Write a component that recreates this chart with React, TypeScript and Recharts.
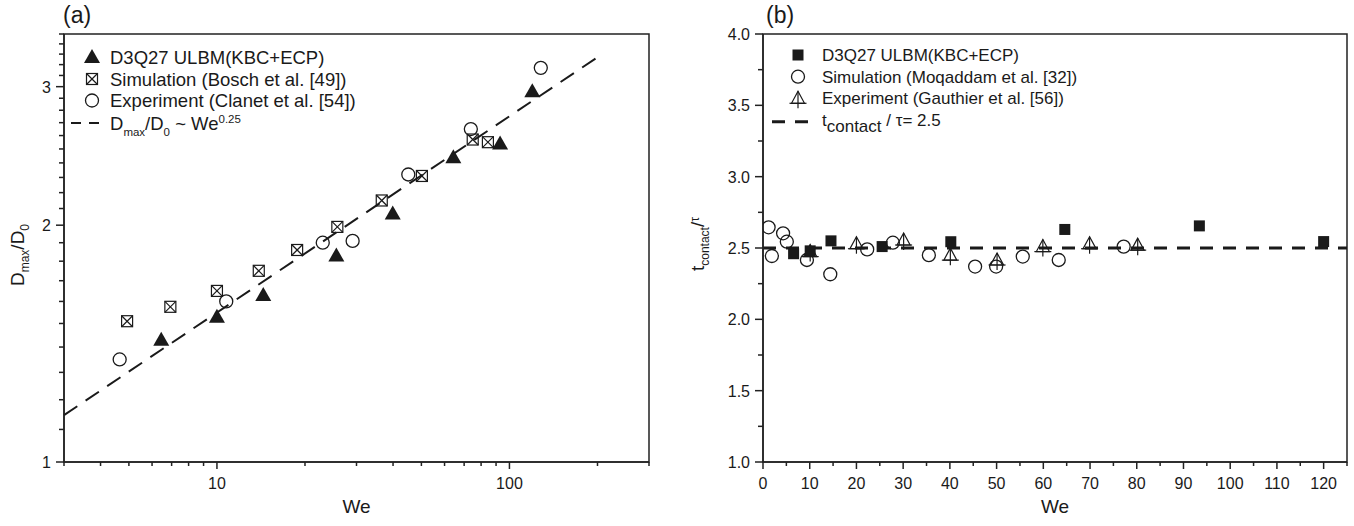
import React from "react";
import {
  Legend,
  Label,
  ReferenceArea,
  ReferenceLine,
  Scatter,
  ScatterChart,
  XAxis,
  YAxis
} from "recharts";

// ---- panel (a): spreading factor vs We (log-log) ----
const weUlbmA = [6.45, 10, 14.4, 25.6, 39.9, 64.3, 92.9, 119.7];
const dUlbmA = [1.43, 1.53, 1.63, 1.83, 2.07, 2.44, 2.54, 2.96];
const weBosch = [4.93, 6.93, 10, 13.9, 18.8, 25.8, 36.6, 50.2, 74.9, 84.4];
const dBosch = [1.51, 1.575, 1.65, 1.75, 1.86, 1.99, 2.15, 2.31, 2.57, 2.55];
const weClanet = [4.65, 10.76, 23.0, 29.1, 45.1, 73.8, 128];
const dClanet = [1.35, 1.6, 1.9, 1.91, 2.32, 2.65, 3.17];
// end points of the dashed We^0.25 line
const fitWe = [3, 200];
const fitD = [1.147, 3.27];

const xTicksA = [3, 4, 5, 6, 7, 8, 9, 10, 20, 30, 40, 50, 60, 70, 80, 90, 100, 200, 300];
const xLabelsA = [10, 100];
const yTicksA = [
  1, 1.1, 1.2, 1.3, 1.4, 1.5, 1.6, 1.7, 1.8, 1.9, 2, 2.1, 2.2, 2.3, 2.4, 2.5, 2.6, 2.7, 2.8, 2.9, 3, 3.1,
  3.2, 3.3, 3.4, 3.5
];
const yLabelsA = [1, 2, 3];

// ---- panel (b): contact time vs We ----
const weUlbmB = [6.55, 10.1, 14.55, 25.5, 40.2, 64.6, 93.4, 120];
const tUlbmB = [2.46, 2.48, 2.55, 2.51, 2.544, 2.63, 2.655, 2.545];
const weMoq = [1.2, 1.9, 4.3, 5.1, 9.4, 14.4, 22.3, 27.8, 35.5, 45.4, 49.9, 55.6, 63.3, 77.2];
const tMoq = [2.645, 2.444, 2.603, 2.544, 2.416, 2.316, 2.49, 2.537, 2.45, 2.37, 2.37, 2.44, 2.416, 2.51];
const weGau = [10.1, 20, 30.1, 40.1, 50.1, 59.9, 69.9, 80.2];
const tGau = [2.475, 2.53, 2.556, 2.45, 2.416, 2.51, 2.53, 2.52];
const tRef = [2.5];

const xTicksB = [0, 5, 10, 15, 20, 25, 30, 35, 40, 45, 50, 55, 60, 65, 70, 75, 80, 85, 90, 95, 100, 105, 110, 115, 120, 125];
const xLabelsB = [0, 10, 20, 30, 40, 50, 60, 70, 80, 90, 100, 110, 120];
const yTicksB = [1, 1.25, 1.5, 1.75, 2, 2.25, 2.5, 2.75, 3, 3.25, 3.5, 3.75, 4];
const yLabelsB = [1, 1.5, 2, 2.5, 3, 3.5, 4];

const INK = "#1a1a1a";
const AXIS = "#222";
const FONT = '"Liberation Sans", Arial, Helvetica, sans-serif';

const zip = (xs: number[], ys: number[]) => xs.map((x, i) => ({ x, y: ys[i] }));

// ---- marker shapes ----
function FilledTriangle({ cx, cy }: any) {
  return <polygon points={`${cx},${cy - 8} ${cx - 8},${cy + 6} ${cx + 8},${cy + 6}`} fill={INK} />;
}
function CrossSquare({ cx, cy }: any) {
  const h = 5.5;
  return (
    <g stroke={INK} strokeWidth={1.2} fill="none">
      <rect x={cx - h} y={cy - h} width={2 * h} height={2 * h} />
      <line x1={cx - h} y1={cy - h} x2={cx + h} y2={cy + h} />
      <line x1={cx - h} y1={cy + h} x2={cx + h} y2={cy - h} />
    </g>
  );
}
function OpenCircle({ cx, cy }: any) {
  return <circle cx={cx} cy={cy} r={6.5} fill="none" stroke={INK} strokeWidth={1.3} />;
}
function FilledSquare({ cx, cy }: any) {
  return <rect x={cx - 5.5} y={cy - 5.5} width={11} height={11} fill={INK} />;
}
function CrossTriangle({ cx, cy }: any) {
  return (
    <g stroke={INK} strokeWidth={1.2} fill="none">
      <polygon points={`${cx},${cy - 7} ${cx - 6.5},${cy + 5} ${cx + 6.5},${cy + 5}`} />
      <line x1={cx - 8.5} y1={cy + 5} x2={cx + 8.5} y2={cy + 5} />
      <line x1={cx} y1={cy - 7} x2={cx} y2={cy + 10} />
    </g>
  );
}

// ---- ticks: drawn by hand so major / minor lengths differ ----
function makeXTick(labels: number[]) {
  return function XTick({ x, y, payload }: any) {
    const major = labels.includes(payload.value);
    return (
      <g>
        <line x1={x} y1={y} x2={x} y2={y + (major ? 7 : 4)} stroke={AXIS} strokeWidth={1.5} />
        {major && (
          <text x={x} y={y + 27} textAnchor="middle" fontSize={16} fill={INK} fontFamily={FONT}>
            {payload.value}
          </text>
        )}
      </g>
    );
  };
}
function makeYTick(labels: number[], digits: number) {
  return function YTick({ x, y, payload }: any) {
    const major = labels.includes(payload.value);
    return (
      <g>
        <line x1={x} y1={y} x2={x - (major ? 8 : 5)} y2={y} stroke={AXIS} strokeWidth={1.5} />
        {major && (
          <text x={x - 13} y={y + 6} textAnchor="end" fontSize={16} fill={INK} fontFamily={FONT}>
            {payload.value.toFixed(digits)}
          </text>
        )}
      </g>
    );
  };
}

function XTitle({ viewBox }: any) {
  return (
    <text x={viewBox.x + viewBox.width / 2} y={513} textAnchor="middle" fontSize={19} fill={INK} fontFamily={FONT}>
      We
    </text>
  );
}
function YTitleA() {
  return (
    <text transform="rotate(-90 24 255)" x={24} y={255} textAnchor="middle" fontSize={19} fill={INK} fontFamily={FONT}>
      D<tspan fontSize={12} dy={5}>max</tspan>
      <tspan dy={-5}>/D</tspan>
      <tspan fontSize={12} dy={5}>0</tspan>
    </text>
  );
}
function YTitleB() {
  return (
    <text transform="rotate(-90 24 244)" x={24} y={244} textAnchor="middle" fontSize={19} fill={INK} fontFamily={FONT}>
      t<tspan fontSize={12} dy={5}>contact</tspan>
      <tspan dy={-5}>/</tspan>
      <tspan fontSize={12} dy={-5}>τ</tspan>
    </text>
  );
}

// ---- legends ----
function LegendA() {
  const tx = 110;
  return (
    <svg width={440} height={150} style={{ display: "block" }} fontFamily={FONT} fontSize={18.5} fill={INK}>
      <FilledTriangle cx={92} cy={57} />
      <text x={tx} y={63.5}>D3Q27 ULBM(KBC+ECP)</text>
      <CrossSquare cx={92} cy={79} />
      <text x={tx} y={85.5}>Simulation (Bosch et al. [49])</text>
      <OpenCircle cx={92} cy={100.5} />
      <text x={tx} y={107}>Experiment (Clanet et al. [54])</text>
      <line x1={71} y1={123} x2={101} y2={123} stroke={INK} strokeWidth={2} strokeDasharray="10 8" />
      <text x={tx} y={129.5}>
        D<tspan fontSize={11.5} dy={6}>max</tspan>
        <tspan dy={-6}>/D</tspan>
        <tspan fontSize={11.5} dy={6}>0</tspan>
        <tspan dy={-6}> ~ We</tspan>
        <tspan fontSize={11.5} dy={-7}>0.25</tspan>
      </text>
    </svg>
  );
}
function LegendB() {
  const tx = 142;
  return (
    <svg width={440} height={150} style={{ display: "block" }} fontFamily={FONT} fontSize={17} fill={INK}>
      <FilledSquare cx={118} cy={55} />
      <text x={tx} y={61}>D3Q27 ULBM(KBC+ECP)</text>
      <OpenCircle cx={118} cy={76.7} />
      <text x={tx} y={82.7}>Simulation (Moqaddam et al. [32])</text>
      <CrossTriangle cx={118} cy={98.3} />
      <text x={tx} y={104.3}>Experiment (Gauthier et al. [56])</text>
      <line x1={92} y1={121.7} x2={128} y2={121.7} stroke={INK} strokeWidth={3} strokeDasharray="13 10" />
      <text x={tx} y={126}>
        t<tspan dy={6}>contact</tspan>
        <tspan dy={-6}> / τ= 2.5</tspan>
      </text>
    </svg>
  );
}

function PanelA() {
  return (
    <ScatterChart width={680} height={526} margin={{ top: 34, right: 31, bottom: 24, left: 0 }}>
      <XAxis
        type="number"
        dataKey="x"
        scale="log"
        domain={[3, 300]}
        ticks={xTicksA}
        interval={0}
        allowDataOverflow
        height={40}
        tickSize={0}
        tickMargin={0}
        tickLine={false}
        axisLine={{ stroke: AXIS, strokeWidth: 1.5 }}
        tick={makeXTick(xLabelsA)}
      >
        <Label content={XTitle} />
      </XAxis>
      <YAxis
        type="number"
        dataKey="y"
        scale="log"
        domain={[1, 3.5]}
        ticks={yTicksA}
        interval={0}
        allowDataOverflow
        width={64}
        tickSize={0}
        tickMargin={0}
        tickLine={false}
        axisLine={{ stroke: AXIS, strokeWidth: 1.5 }}
        tick={makeYTick(yLabelsA, 0)}
      >
        <Label content={YTitleA} />
      </YAxis>
      <ReferenceArea x1={3} x2={300} y1={1} y2={3.5} fill="none" stroke={AXIS} strokeWidth={1.5} ifOverflow="visible" />
      <ReferenceLine
        segment={zip(fitWe, fitD)}
        stroke={INK}
        strokeWidth={2}
        strokeDasharray="16 10"
        ifOverflow="visible"
      />
      <Scatter data={zip(weBosch, dBosch)} shape={CrossSquare} isAnimationActive={false} />
      <Scatter data={zip(weClanet, dClanet)} shape={OpenCircle} isAnimationActive={false} />
      <Scatter data={zip(weUlbmA, dUlbmA)} shape={FilledTriangle} isAnimationActive={false} />
      <Legend
        layout="vertical"
        align="center"
        verticalAlign="middle"
        wrapperStyle={{ left: 0, top: 0, width: 440, height: 150 }}
        content={() => <LegendA />}
      />
    </ScatterChart>
  );
}

function PanelB() {
  return (
    <ScatterChart width={674} height={526} margin={{ top: 34, right: 7, bottom: 24, left: 0 }}>
      <XAxis
        type="number"
        dataKey="x"
        domain={[0, 125]}
        ticks={xTicksB}
        interval={0}
        allowDataOverflow
        height={40}
        tickSize={0}
        tickMargin={0}
        tickLine={false}
        axisLine={{ stroke: AXIS, strokeWidth: 1.5 }}
        tick={makeXTick(xLabelsB)}
      >
        <Label content={XTitle} />
      </XAxis>
      <YAxis
        type="number"
        dataKey="y"
        domain={[1, 4]}
        ticks={yTicksB}
        interval={0}
        allowDataOverflow
        width={83}
        tickSize={0}
        tickMargin={0}
        tickLine={false}
        axisLine={{ stroke: AXIS, strokeWidth: 1.5 }}
        tick={makeYTick(yLabelsB, 1)}
      >
        <Label content={YTitleB} />
      </YAxis>
      <ReferenceArea x1={0} x2={125} y1={1} y2={4} fill="none" stroke={AXIS} strokeWidth={1.5} ifOverflow="visible" />
      <ReferenceLine y={tRef[0]} stroke={INK} strokeWidth={3} strokeDasharray="13 10" />
      <Scatter data={zip(weMoq, tMoq)} shape={OpenCircle} isAnimationActive={false} />
      <Scatter data={zip(weGau, tGau)} shape={CrossTriangle} isAnimationActive={false} />
      <Scatter data={zip(weUlbmB, tUlbmB)} shape={FilledSquare} isAnimationActive={false} />
      <Legend
        layout="vertical"
        align="center"
        verticalAlign="middle"
        wrapperStyle={{ left: 0, top: 0, width: 440, height: 150 }}
        content={() => <LegendB />}
      />
    </ScatterChart>
  );
}

export default function App() {
  return (
    <div style={{ position: "relative", width: 1354, height: 526, background: "#fff", fontFamily: FONT }}>
      <style>{"body{margin:0}"}</style>
      <div style={{ position: "absolute", left: 0, top: 0 }}>
        <PanelA />
      </div>
      <div style={{ position: "absolute", left: 680, top: 0 }}>
        <PanelB />
      </div>
      <svg width={1354} height={40} style={{ position: "absolute", left: 0, top: 0, pointerEvents: "none" }}>
        <text x={63} y={23} fontSize={23} fill={INK} fontFamily={FONT}>
          (a)
        </text>
        <text x={766} y={23} fontSize={23} fill={INK} fontFamily={FONT}>
          (b)
        </text>
      </svg>
    </div>
  );
}
